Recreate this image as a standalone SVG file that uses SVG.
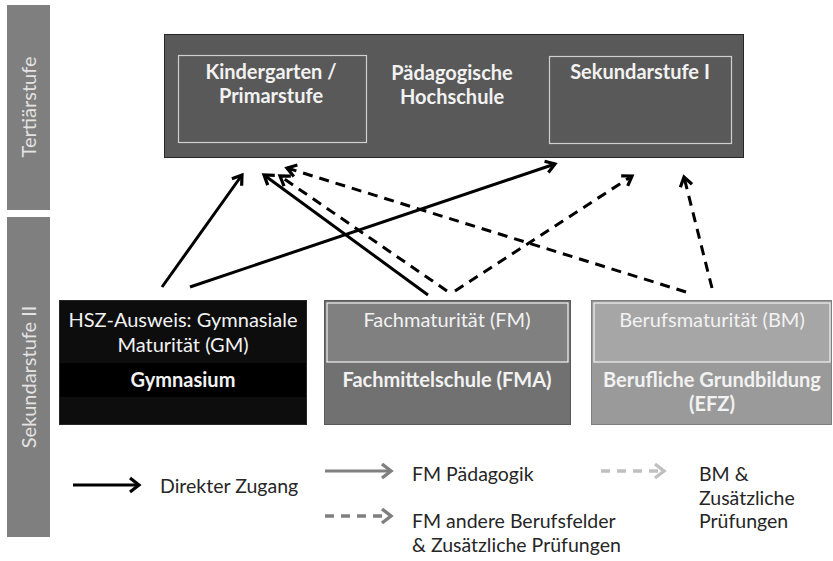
<svg xmlns="http://www.w3.org/2000/svg" width="833" height="561" viewBox="0 0 833 561">
<style>
.t{font-family:Lato,'Liberation Sans','DejaVu Sans',sans-serif}
.bar{fill:#7f7f7f}
.barTxt{font-size:20px;fill:#e3e3e3}
.hd{font-size:20px;fill:#f2f2f2;font-weight:bold}
.nb{font-size:20px;fill:#f2f2f2}
.lg{font-size:19.5px;fill:#262626}
.conn{fill:none;stroke:#000;stroke-width:3}
.dash{stroke-dasharray:10 7}
</style>
<defs>
<marker id="ah" markerUnits="userSpaceOnUse" markerWidth="16" markerHeight="16" viewBox="0 0 16 16" refX="13" refY="8" orient="auto">
<path d="M4,2 L13,8 L4,14" fill="none" stroke="#000" stroke-width="3.2"/>
</marker>
<marker id="ahL" markerUnits="userSpaceOnUse" markerWidth="18" markerHeight="18" viewBox="0 0 18 18" refX="14" refY="9" orient="auto">
<path d="M5,2 L14,9 L5,16" fill="none" stroke="#000" stroke-width="3.2"/>
</marker>
<marker id="ahG" markerUnits="userSpaceOnUse" markerWidth="18" markerHeight="18" viewBox="0 0 18 18" refX="14" refY="9" orient="auto">
<path d="M5,2 L14,9 L5,16" fill="none" stroke="#7f7f7f" stroke-width="3.4"/>
</marker>
<marker id="ahW" markerUnits="userSpaceOnUse" markerWidth="18" markerHeight="18" viewBox="0 0 18 18" refX="14" refY="9" orient="auto">
<path d="M5,2 L14,9 L5,16" fill="none" stroke="#c0c0c0" stroke-width="3.4"/>
</marker>
</defs>

<g id="stufe-tertiaer">
<rect class="bar" x="7" y="5" width="43" height="205"/>
<text class="t barTxt" transform="translate(36,107) rotate(-90)" text-anchor="middle">Tertiärstufe</text>
</g>
<g id="stufe-sek2">
<rect class="bar" x="7" y="217" width="43" height="320"/>
<text class="t barTxt" transform="translate(36,377) rotate(-90)" text-anchor="middle">Sekundarstufe II</text>
</g>

<g id="ph">
<rect x="164.5" y="34.5" width="579" height="123" fill="#595959" stroke="#262626" stroke-width="1"/>
<text class="t hd" x="452" y="80" text-anchor="middle">Pädagogische</text>
<text class="t hd" x="452" y="104" text-anchor="middle">Hochschule</text>
</g>
<g id="kg">
<rect x="178.5" y="55.5" width="188" height="87" fill="none" stroke="#cfcfcf" stroke-width="1.2"/>
<text class="t hd" x="271" y="79" text-anchor="middle">Kindergarten /</text>
<text class="t hd" x="271" y="103" text-anchor="middle">Primarstufe</text>
</g>
<g id="sek1">
<rect x="549.5" y="56.5" width="182" height="87" fill="none" stroke="#cfcfcf" stroke-width="1.2"/>
<text class="t hd" x="640" y="79" text-anchor="middle">Sekundarstufe I</text>
</g>

<g id="gym">
<rect x="59.5" y="300.5" width="247" height="124" fill="#0d0d0d" stroke="#262626" stroke-width="1"/>
<rect x="60" y="363" width="246" height="34" fill="#000"/>
<text class="t nb" x="183" y="327" text-anchor="middle">HSZ-Ausweis: Gymnasiale</text>
<text class="t nb" x="183" y="352" text-anchor="middle">Maturität (GM)</text>
<text class="t hd" x="183" y="387" text-anchor="middle">Gymnasium</text>
</g>
<g id="fma">
<rect x="324.5" y="300.5" width="246" height="124" fill="#717171" stroke="#595959" stroke-width="1"/>
<rect x="327" y="303" width="241" height="59" fill="#808080" stroke="#f2f2f2" stroke-width="1.2"/>
<text class="t nb" x="447" y="327" text-anchor="middle">Fachmaturität (FM)</text>
<text class="t hd" x="447" y="387" text-anchor="middle">Fachmittelschule (FMA)</text>
</g>
<g id="bm">
<rect x="591.5" y="300.5" width="240" height="124" fill="#9a9a9a" stroke="#7f7f7f" stroke-width="1"/>
<rect x="594" y="303" width="236" height="59" fill="#a6a6a6" stroke="#f2f2f2" stroke-width="1.2"/>
<text class="t nb" x="712" y="327" text-anchor="middle">Berufsmaturität (BM)</text>
<text class="t hd" x="712" y="387" text-anchor="middle">Berufliche Grundbildung</text>
<text class="t hd" x="712" y="411" text-anchor="middle">(EFZ)</text>
</g>

<g id="connectors">
<path class="conn" d="M162,287 L242,175" marker-end="url(#ah)"/>
<path class="conn" d="M190,287 L555,164" marker-end="url(#ah)"/>
<path class="conn" d="M428,295 L264,175" marker-end="url(#ah)"/>
<path class="conn dash" d="M447,291 L280,176" marker-end="url(#ah)"/>
<path class="conn dash" d="M455,291 L632,176" marker-end="url(#ah)"/>
<path class="conn dash" d="M686,292 L287,168" marker-end="url(#ah)"/>
<path class="conn dash" d="M712,288 L684,177" marker-end="url(#ah)"/>
</g>

<g id="legend">
<path d="M73,485 L139,485" fill="none" stroke="#000" stroke-width="3" marker-end="url(#ahL)"/>
<text class="t lg" x="160" y="493">Direkter Zugang</text>
<path d="M325,471 L391,471" fill="none" stroke="#7f7f7f" stroke-width="3" marker-end="url(#ahG)"/>
<text class="t lg" x="412" y="481">FM Pädagogik</text>
<path d="M325,516 L391,516" fill="none" stroke="#7f7f7f" stroke-width="3.4" stroke-dasharray="9 7" marker-end="url(#ahG)"/>
<text class="t lg" x="412" y="528">FM andere Berufsfelder</text>
<text class="t lg" x="412" y="552">&amp; Zusätzliche Prüfungen</text>
<path d="M601,471 L664,471" fill="none" stroke="#c0c0c0" stroke-width="3.4" stroke-dasharray="9 7" marker-end="url(#ahW)"/>
<text class="t lg" x="699" y="481">BM &amp;</text>
<text class="t lg" x="699" y="505">Zusätzliche</text>
<text class="t lg" x="699" y="528">Prüfungen</text>
</g>
</svg>
